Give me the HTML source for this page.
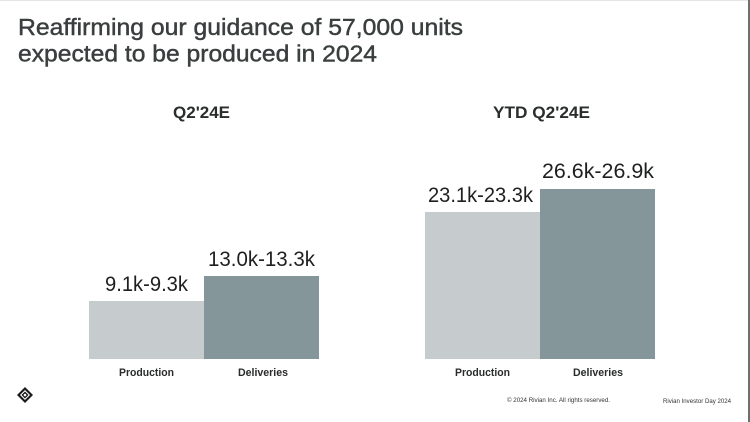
<!DOCTYPE html>
<html>
<head>
<meta charset="utf-8">
<style>
  html, body { margin: 0; padding: 0; background: #ffffff; }
  body { width: 750px; height: 422px; overflow: hidden; position: relative; }
  svg { display: block; }
  text { font-family: "Liberation Sans", Arial, sans-serif; }
</style>
</head>
<body>
<svg width="750" height="422" viewBox="0 0 750 422" xmlns="http://www.w3.org/2000/svg">
  <rect x="0" y="0" width="750" height="422" fill="#ffffff"/>
  <!-- top faint line -->
  <rect x="0" y="0" width="750" height="1" fill="#e6e6e6"/>
  <!-- right border -->
  <rect x="748" y="0" width="2" height="422" fill="#6e6e6e"/>

  <!-- Title -->
  <text x="18" y="35" font-size="23" fill="#3a3e3e" stroke="#3a3e3e" stroke-width="0.45" textLength="445" lengthAdjust="spacingAndGlyphs">Reaffirming our guidance of 57,000 units</text>
  <text x="18" y="61.5" font-size="23" fill="#3a3e3e" stroke="#3a3e3e" stroke-width="0.45" textLength="359" lengthAdjust="spacingAndGlyphs">expected to be produced in 2024</text>

  <!-- Section headings -->
  <text x="201.5" y="118" font-size="17" font-weight="bold" fill="#2a2d2d" text-anchor="middle" textLength="57" lengthAdjust="spacingAndGlyphs">Q2'24E</text>
  <text x="541.5" y="118" font-size="17" font-weight="bold" fill="#2a2d2d" text-anchor="middle" textLength="97" lengthAdjust="spacingAndGlyphs">YTD Q2'24E</text>

  <!-- Left chart bars -->
  <rect x="89" y="301" width="115" height="58" fill="#c6cccd"/>
  <rect x="204" y="276" width="115" height="83" fill="#85969b"/>

  <!-- Right chart bars -->
  <rect x="425" y="212" width="115" height="147" fill="#c6cccd"/>
  <rect x="540" y="189" width="115" height="170" fill="#85969b"/>

  <!-- Value labels -->
  <text x="146.5" y="291" font-size="21" fill="#1e1f1f" text-anchor="middle" textLength="83" lengthAdjust="spacingAndGlyphs">9.1k-9.3k</text>
  <text x="261.5" y="266" font-size="21" fill="#1e1f1f" text-anchor="middle" textLength="107" lengthAdjust="spacingAndGlyphs">13.0k-13.3k</text>
  <text x="480.5" y="202" font-size="21" fill="#1e1f1f" text-anchor="middle" textLength="105" lengthAdjust="spacingAndGlyphs">23.1k-23.3k</text>
  <text x="598" y="178" font-size="21" fill="#1e1f1f" text-anchor="middle" textLength="112" lengthAdjust="spacingAndGlyphs">26.6k-26.9k</text>

  <!-- Category labels -->
  <text x="146.5" y="376" font-size="11" font-weight="bold" fill="#2a2b2b" text-anchor="middle" textLength="55" lengthAdjust="spacingAndGlyphs">Production</text>
  <text x="263" y="376" font-size="11" font-weight="bold" fill="#2a2b2b" text-anchor="middle" textLength="50" lengthAdjust="spacingAndGlyphs">Deliveries</text>
  <text x="482.5" y="376" font-size="11" font-weight="bold" fill="#2a2b2b" text-anchor="middle" textLength="55" lengthAdjust="spacingAndGlyphs">Production</text>
  <text x="598" y="376" font-size="11" font-weight="bold" fill="#2a2b2b" text-anchor="middle" textLength="50" lengthAdjust="spacingAndGlyphs">Deliveries</text>

  <!-- Logo -->
  <g transform="translate(25,395)">
    <polygon points="0,-8 8,0 0,8 -8,0" fill="#1b1b1b"/>
    <polygon points="0,-5 5,0 0,5 -5,0" fill="#ffffff"/>
    <polygon points="0,-3.5 3.5,0 0,3.5 -3.5,0" fill="#1b1b1b"/>
    <circle cx="0" cy="0" r="1.3" fill="#ffffff"/>
  </g>

  <!-- Footer -->
  <text x="507" y="402" font-size="6.5" fill="#333333" textLength="103" lengthAdjust="spacingAndGlyphs">© 2024 Rivian Inc. All rights reserved.</text>
  <text x="663" y="403" font-size="6.5" fill="#333333" textLength="68" lengthAdjust="spacingAndGlyphs">Rivian Investor Day 2024</text>
</svg>
</body>
</html>
